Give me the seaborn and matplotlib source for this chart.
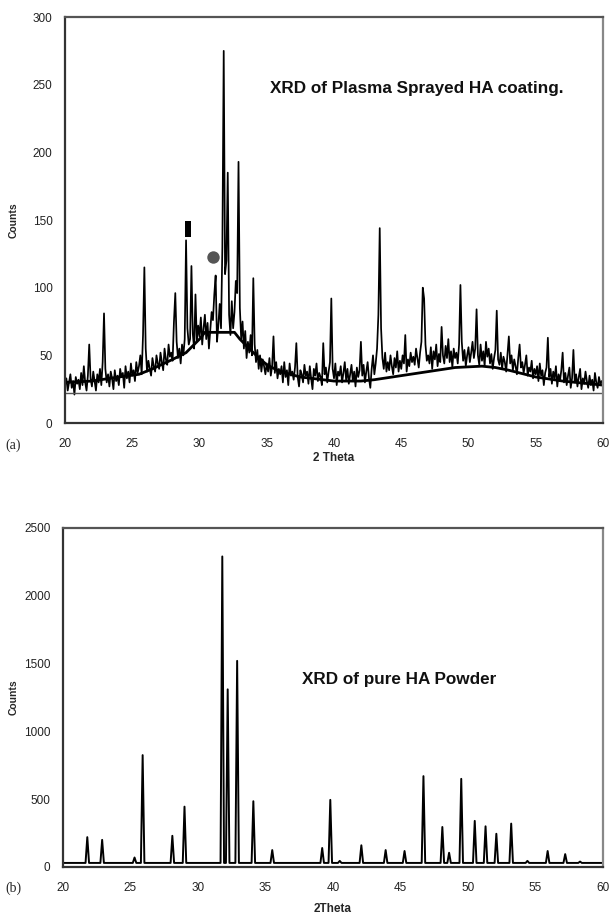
import numpy as np
import pandas as pd
import matplotlib
matplotlib.use("Agg")
import matplotlib.pyplot as plt
import seaborn as sns

# ---------------- data ----------------
# (a) plasma sprayed HA coating: raw counts, 2-theta 20..60 in 0.1 deg steps
coating_start = 20.0
coating_step = 0.1
coating_counts = [
    28, 33, 24, 30, 36, 26, 31, 21, 34, 29,      # 20
    32, 25, 37, 28, 42, 30, 24, 35, 58, 33,      # 21
    27, 38, 31, 24, 36, 30, 40, 28, 45, 81,      # 22
    40, 30, 36, 27, 38, 33, 25, 39, 31, 35,      # 23
    28, 40, 34, 37, 26, 42, 33, 38, 30, 44,      # 24
    35, 39, 31, 45, 37, 42, 50, 36, 65, 115,     # 25
    55, 38, 46, 40, 35, 48, 42, 38, 50, 44,      # 26
    40, 52, 45, 39, 55, 47, 43, 58, 49, 52,      # 27
    46, 75, 96, 60, 48, 55, 44, 58, 50, 62,      # 28
    135, 70, 58, 62, 116, 66, 55, 95, 60, 72,    # 29
    64, 78, 58, 70, 80, 62, 74, 55, 68, 82,      # 30
    76, 95, 109, 60, 72, 88, 70, 130, 275, 110,  # 31
    120, 185, 80, 65, 90, 70, 82, 105, 96, 193,  # 32
    85, 62, 75, 55, 68, 48, 60, 52, 65, 50,      # 33
    107, 58, 45, 54, 40, 50, 38, 47, 42, 36,     # 34
    44, 38, 48, 35, 42, 64, 37, 45, 33, 40,      # 35
    36, 42, 30, 45, 34, 39, 28, 44, 35, 38,      # 36
    32, 41, 59, 34, 27, 39, 36, 30, 43, 35,      # 37
    38, 29, 42, 33, 25, 40, 35, 44, 31, 37,      # 38
    34, 28, 59, 36, 41, 30, 38, 45, 92, 40,      # 39
    33, 44, 28, 38, 35, 42, 30, 37, 45, 32,      # 40
    40, 29, 36, 43, 31, 38, 27, 41, 34, 39,      # 41
    60, 35, 43, 30, 38, 45, 33, 26, 40, 50,      # 42
    36, 44, 55, 80, 144, 70, 48, 40, 52, 38,     # 43
    45, 39, 50, 42, 36, 48, 41, 53, 38, 46,      # 44
    40, 50, 44, 65, 38, 47, 42, 52, 45, 49,      # 45
    43, 55, 48, 41, 52, 60, 100, 92, 58, 46,     # 46
    50, 44, 56, 40, 53, 47, 58, 42, 51, 45,      # 47
    71, 50, 44, 57, 48, 62, 45, 53, 41, 55,      # 48
    48, 52, 44, 58, 102, 60, 46, 54, 42, 50,     # 49
    56, 45, 52, 60, 48, 55, 84, 50, 43, 58,      # 50
    46, 53, 42, 60, 49, 55, 44, 51, 40, 48,      # 51
    54, 83, 47, 43, 52, 40, 49, 45, 38, 51,      # 52
    64, 44, 50, 39, 47, 42, 36, 48, 58, 41,      # 53
    45, 37, 43, 50, 35, 41, 38, 46, 33, 40,      # 54
    36, 42, 31, 44, 35, 39, 28, 37, 41, 63,      # 55
    34, 40, 29, 38, 33, 42, 27, 36, 31, 39,      # 56
    52, 30, 37, 28, 35, 41, 26, 33, 54, 30,      # 57
    36, 27, 34, 40, 25, 33, 29, 38, 31, 26,      # 58
    35, 28, 32, 24, 37, 30, 26, 34, 29, 31,      # 59
    28,                                          # 60
]
# fitted amorphous hump (smooth line)
coating_fit_tt = [20, 22, 24, 25.5, 26.5, 28, 29, 30, 30.4, 32.6, 33, 34, 35, 36,
                  37.5, 40, 42, 43, 45, 47, 49, 51, 52, 53, 55, 57, 60]
coating_fit_counts = [30, 31, 34, 36, 40, 47, 52, 62, 67, 67, 62, 52, 43, 38,
                      34, 31, 31, 32, 35, 38, 41, 42, 41, 39, 34, 31, 28]
coating_baseline = 22
# phase markers
square_marker_tt, square_marker_counts = [29.15], [143]
circle_marker_tt, circle_marker_counts = [31.0], [123]

# (b) pure HA powder: peak positions and heights
powder_peak_tt = [21.8, 22.9, 25.3, 25.9, 28.1, 29.0, 31.8, 32.2, 32.9, 34.1,
                  35.5, 39.2, 39.8, 40.5, 42.1, 43.9, 45.3, 46.7, 48.1, 48.6,
                  49.5, 50.5, 51.3, 52.1, 53.2, 54.4, 55.9, 57.2, 58.3]
powder_peak_counts = [220, 200, 70, 825, 230, 445, 2290, 1310, 1520, 485,
                      125, 140, 495, 45, 160, 125, 118, 670, 295, 105,
                      650, 340, 300, 245, 320, 45, 118, 95, 40]
powder_background = 30

# ---------------- build frames ----------------
coating_df = pd.DataFrame({
    "tt": np.round(coating_start + coating_step * np.arange(len(coating_counts)), 2),
    "counts": coating_counts,
})
fit_df = pd.DataFrame({"tt": coating_fit_tt, "counts": coating_fit_counts})

half_w = 0.13
verts = [(20.0, powder_background), (60.0, powder_background)]
for p, h in zip(powder_peak_tt, powder_peak_counts):
    verts += [(p - half_w, powder_background), (p, h), (p + half_w, powder_background)]
verts.sort(key=lambda v: v[0])
powder_df = pd.DataFrame(verts, columns=["tt", "counts"])

# ---------------- style ----------------
sns.set_theme(style="white")
plt.rcParams["font.family"] = ["Liberation Sans", "DejaVu Sans"]

fig = plt.figure(figsize=(6.11, 9.16), dpi=100)
ax1 = fig.add_axes([0.1064, 0.5382, 0.8805, 0.4432])
ax2 = fig.add_axes([0.1031, 0.0535, 0.8838, 0.3701])

# top panel
sns.lineplot(data=coating_df, x="tt", y="counts", ax=ax1, color="black",
             lw=1.25, estimator=None, sort=False)
ax1.axhline(coating_baseline, color="#555555", lw=1.0)
sns.lineplot(data=fit_df, x="tt", y="counts", ax=ax1, color="black",
             lw=2.0, estimator=None, sort=False)
rect = [(-0.35, -1), (0.35, -1), (0.35, 1), (-0.35, 1)]
ax1.scatter(square_marker_tt, square_marker_counts, marker=rect, s=130,
            color="black", zorder=5, linewidths=0)
ax1.scatter(circle_marker_tt, circle_marker_counts, marker="o", s=80,
            color="#555555", zorder=5, linewidths=0)
ax1.set_xlim(20, 60)
ax1.set_ylim(0, 300)
ax1.set_xticks(np.arange(20, 61, 5))
ax1.set_yticks(np.arange(0, 301, 50))
ax1.text(0.381, 0.825, "XRD of Plasma Sprayed HA coating.", transform=ax1.transAxes,
         ha="left", va="center", fontsize=12.3, fontweight="bold", color="#111111")
ax1.set_xlabel("2 Theta", fontsize=8.5, fontweight="bold")
ax1.set_ylabel("Counts", fontsize=7.5, fontweight="bold")
ax1.xaxis.set_label_coords(0.5, -0.071)
ax1.yaxis.set_label_coords(-0.087, 0.5)

# bottom panel
sns.lineplot(data=powder_df, x="tt", y="counts", ax=ax2, color="black",
             lw=1.4, estimator=None, sort=False)
ax2.set_xlim(20, 60)
ax2.set_ylim(0, 2500)
ax2.set_xticks(np.arange(20, 61, 5))
ax2.set_yticks(np.arange(0, 2501, 500))
ax2.text(0.443, 0.552, "XRD of pure HA Powder", transform=ax2.transAxes,
         ha="left", va="center", fontsize=12.3, fontweight="bold", color="#111111")
ax2.set_xlabel("2Theta", fontsize=8.5, fontweight="bold")
ax2.set_ylabel("Counts", fontsize=7.5, fontweight="bold")
ax2.xaxis.set_label_coords(0.5, -0.106)
ax2.yaxis.set_label_coords(-0.083, 0.5)

for ax in (ax1, ax2):
    for side, col in (("left", "#333333"), ("bottom", "#333333"),
                      ("top", "#555555"), ("right", "#888888")):
        ax.spines[side].set_visible(True)
        ax.spines[side].set_color(col)
        ax.spines[side].set_linewidth(1.6)
    ax.tick_params(axis="both", direction="inout", length=4, width=1,
                   color="#555555", labelsize=8.5, labelcolor="#222222")
    ax.tick_params(axis="x", pad=9)
    ax.tick_params(axis="y", pad=7)
    ax.grid(False)

fig.text(0.008, 0.514, "(a)", family=["Liberation Serif", "DejaVu Serif"],
         fontsize=10, ha="left", va="center")
fig.text(0.008, 0.0306, "(b)", family=["Liberation Serif", "DejaVu Serif"],
         fontsize=10, ha="left", va="center")

fig.savefig("out.png", dpi=100)
